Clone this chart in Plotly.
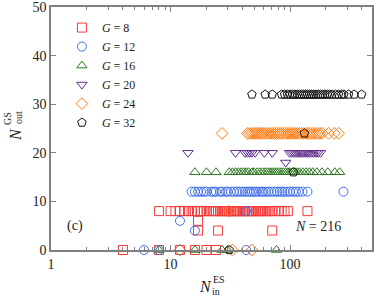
import math
import plotly.graph_objects as go

# ---- data: (N_out level, list of N_in values) per group ----
g8_rows = [
    (8, [8, 10, 11, 12, 13, 14, 15, 16, 17, 18, 19, 20, 21, 22, 23, 24, 25, 26, 27, 28, 29, 30, 31,
         32, 33, 34, 35, 36, 37, 38, 40, 41, 42, 44, 45, 46, 48, 50, 52, 54, 56, 58, 60, 62, 65,
         68, 71, 75, 80, 85, 90, 96, 140]),
    (6, [17]),
    (4, [17, 25, 71]),
    (0, [4, 8, 12, 16, 20, 24]),
]
g12_rows = [
    (12, [15, 16, 17, 18, 19, 20, 22, 23, 24, 26, 27, 29, 30, 32, 34, 36, 38, 40, 42, 44, 46, 48,
          50, 52, 55, 58, 60, 63, 66, 70, 74, 78, 82, 86, 90, 95, 100, 106, 112, 118, 127, 140, 280]),
    (8, [43]),
    (6, [12]),
    (4, [16]),
    (0, [6, 8, 12, 43]),
]
g16_rows = [
    (16, [16, 20, 24, 31, 33, 35, 37, 39, 41, 43, 45, 48, 50, 53, 56, 59, 62, 65, 68, 71, 74, 77,
          80, 84, 88, 92, 96, 100, 105, 110, 115, 120, 128, 136, 145, 155, 168, 185, 207, 237, 260]),
    (0, [8, 16, 27, 30, 77]),
]
g20_rows = [
    (20, [14, 35, 42, 44, 46, 48, 51, 61, 71, 99, 103, 107, 111, 115, 119, 123, 127, 131, 136,
          141, 146, 152, 158, 165, 172, 180]),
    (18, [92]),
]
g24_rows = [
    (24, [27, 44, 46, 48, 50, 52, 54, 56, 58, 60, 62, 65, 68, 71, 74, 77, 80, 83, 86, 90, 94, 98,
          102, 106, 110, 115, 120, 125, 130, 136, 142, 148, 155, 162, 170, 178, 186, 210, 235, 255]),
    (8, [31]),
    (0, [12, 33, 48]),
]
g32_rows = [
    (32, [48, 62, 71, 85, 90, 95, 100, 105, 110, 115, 120, 125, 130, 135, 140, 146, 152, 158,
          165, 172, 180, 188, 196, 205, 215, 225, 240, 255, 270, 282, 309, 344, 397]),
    (24, [132]),
    (16, [107]),
    (0, [31]),
]

groups = ["8", "12", "16", "20", "24", "32"]
symbols = ["square-open", "circle-open", "triangle-up-open", "triangle-down-open",
           "diamond-open", "pentagon-open"]
colors = ["#f53a3a", "#3f6fe8", "#2f7a22", "#63308f", "#ff7a10", "#111111"]
all_rows = [g8_rows, g12_rows, g16_rows, g20_rows, g24_rows, g32_rows]

x_major = [1, 10, 100]
x_minor = [2, 3, 4, 5, 6, 7, 8, 9, 20, 30, 40, 50, 60, 70, 80, 90, 200, 300, 400]
y_ticks = [0, 10, 20, 30, 40, 50]

FONT = "Liberation Serif"
AX = "#808080"

L, R, T, B = 51, 2, 7, 46
W, H = 374, 296
PW, PH = W - L - R, H - T - B

fig = go.Figure()
for g, sym, col, rows in zip(groups, symbols, colors, all_rows):
    xs, ys = [], []
    for level, vals in rows:
        xs += vals
        ys += [level] * len(vals)
    fig.add_trace(go.Scatter(
        x=xs, y=ys, mode="markers", name=f"<i>G</i> = {g}",
        marker=dict(symbol=sym, size=9, color=col, line=dict(width=1, color=col)),
        cliponaxis=False,
    ))

fig.update_layout(
    width=W, height=H,
    margin=dict(l=L, r=R, t=T, b=B),
    paper_bgcolor="white", plot_bgcolor="white",
    font=dict(family=FONT, size=14, color="#222"),
    showlegend=True,
    legend=dict(x=0.034, y=0.975, xanchor="left", yanchor="top",
                font=dict(family=FONT, size=12, color="#222"),
                bgcolor="rgba(0,0,0,0)", itemwidth=30, tracegroupgap=0),
    xaxis=dict(type="log", range=[0, 2.686], automargin=False, ticklabeloverflow="allow",
               tickvals=x_major, ticktext=[str(v) for v in x_major],
               ticks="inside", ticklen=5, tickcolor=AX, tickwidth=1,
               minor=dict(tickvals=x_minor, ticks="inside", ticklen=3, tickcolor=AX, tickwidth=1),
               showline=True, linecolor=AX, linewidth=1.5, mirror="ticks",
               showgrid=False, zeroline=False),
    yaxis=dict(range=[0, 50], tickvals=y_ticks, automargin=False, ticklabeloverflow="allow",
               ticks="inside", ticklen=5, tickcolor=AX, tickwidth=1,
               showline=True, linecolor=AX, linewidth=1.5, mirror="ticks",
               showgrid=False, zeroline=False),
)

def px2paper(px, py):
    return (px - L) / PW, (H - B - py) / PH

def ann(text, px, py, size, angle=0):
    x, y = px2paper(px, py)
    fig.add_annotation(text=text, x=x, y=y, xref="paper", yref="paper",
                       xanchor="center", yanchor="middle",
                       showarrow=False, textangle=angle,
                       font=dict(family=FONT, size=size, color="#222"))

# x-axis title N_in^ES
ann("<i>N</i>", 205, 286, 16)
ann("ES", 219, 279, 10)
ann("in", 216, 291, 10)
# y-axis title N_out^GS (rotated)
ann("<i>N</i>", 15, 135, 16, -90)
ann("GS", 7, 119, 10, -90)
ann("out", 18, 118, 10, -90)
# panel label and N
ann("(c)", 75, 226, 14)
ann("<i>N</i> = 216", 318, 226, 14)

fig.write_html("out.html", config={"displayModeBar": False})

# remove the default page margin so the figure sits at the window's top-left
with open("out.html", "r", encoding="utf-8") as f:
    html = f.read()
html = html.replace("<head>", "<head><style>html,body{margin:0;padding:0;overflow:hidden;}</style>", 1)
with open("out.html", "w", encoding="utf-8") as f:
    f.write(html)
